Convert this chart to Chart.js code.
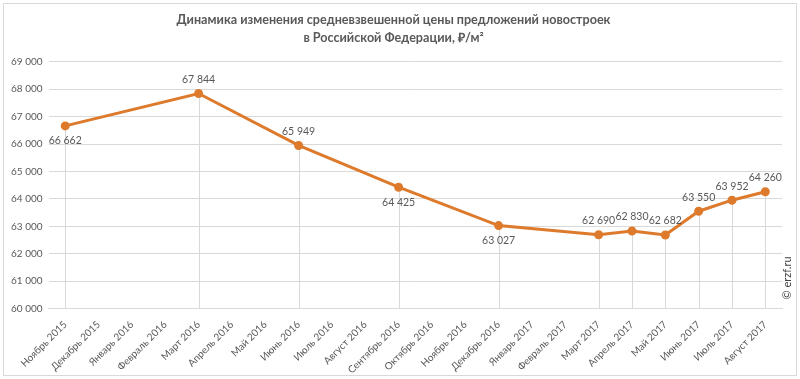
<!DOCTYPE html>
<html>
<head>
<meta charset="utf-8">
<script src="https://cdn.jsdelivr.net/npm/chart.js@4"></script>
<style>
  body { margin: 0; background: #fff; }
  #wrap { width: 800px; height: 379px; }
</style>
</head>
<body>
<div id="wrap"><canvas id="chart"></canvas></div>
<script>
// months on the x axis
const months = [
  'Ноябрь 2015', 'Декабрь 2015', 'Январь 2016', 'Февраль 2016', 'Март 2016', 'Апрель 2016',
  'Май 2016', 'Июнь 2016', 'Июль 2016', 'Август 2016', 'Сентябрь 2016', 'Октябрь 2016',
  'Ноябрь 2016', 'Декабрь 2016', 'Январь 2017', 'Февраль 2017', 'Март 2017', 'Апрель 2017',
  'Май 2017', 'Июнь 2017', 'Июль 2017', 'Август 2017'
];
// price per m2, null where there is no measurement
const prices = [
  66662, null, null, null, 67844, null,
  null, 65949, null, null, 64425, null,
  null, 63027, null, null, 62690, 62830,
  62682, 63550, 63952, 64260
];
const yTicks = [60000, 61000, 62000, 63000, 64000, 65000, 66000, 67000, 68000, 69000];

const fmt = v => String(v).replace(/\B(?=(\d{3})+(?!\d))/g, ' ');
const below = [0, 10, 13]; // points whose label sits under the marker
const orange = '#dd7a2c';
const grey = '#d9d9d9';
const textCol = '#595959';
const font = 'Lato, "Open Sans", sans-serif';

const extras = {
  id: 'extras',
  beforeDraw(chart) {
    const ctx = chart.ctx;
    ctx.save();
    ctx.fillStyle = '#fff';
    ctx.fillRect(0, 0, chart.width, chart.height);
    ctx.strokeStyle = grey;
    ctx.lineWidth = 1;
    ctx.strokeRect(3.5, 3.5, chart.width - 7, chart.height - 7);
    ctx.restore();
  },
  beforeDatasetsDraw(chart) {
    const ctx = chart.ctx, x = chart.scales.x, y = chart.scales.y;
    ctx.save();
    ctx.strokeStyle = grey;
    ctx.lineWidth = 1;
    prices.forEach((v, i) => {
      if (v == null) return;
      const px = Math.round(x.getPixelForValue(i)) + 0.5;
      ctx.beginPath();
      ctx.moveTo(px, y.getPixelForValue(v));
      ctx.lineTo(px, chart.chartArea.bottom);
      ctx.stroke();
    });
    ctx.restore();
  },
  afterDatasetsDraw(chart) {
    const ctx = chart.ctx, x = chart.scales.x, y = chart.scales.y;
    ctx.save();
    ctx.font = '10.5px ' + font;
    ctx.fillStyle = textCol;
    ctx.textAlign = 'center';
    ctx.textBaseline = 'middle';
    prices.forEach((v, i) => {
      if (v == null) return;
      const px = x.getPixelForValue(i), py = y.getPixelForValue(v);
      ctx.fillText(fmt(v), px, below.includes(i) ? py + 15 : py - 14);
    });
    // copyright
    ctx.translate(787, 278);
    ctx.rotate(-Math.PI / 2);
    ctx.font = '11px ' + font;
    ctx.fillStyle = '#404040';
    ctx.fillText('© erzf.ru', 0, 0);
    ctx.restore();
  }
};

new Chart(document.getElementById('chart'), {
  type: 'line',
  data: {
    labels: months,
    datasets: [{
      data: prices,
      spanGaps: true,
      borderColor: orange,
      backgroundColor: orange,
      borderWidth: 3,
      pointRadius: 3,
      pointBackgroundColor: orange,
      pointBorderColor: orange,
      tension: 0
    }]
  },
  options: {
    responsive: true,
    maintainAspectRatio: false,
    animation: false,
    layout: { padding: { left: 5, right: 18, top: 4, bottom: 1 } },
    plugins: {
      legend: { display: false },
      tooltip: { enabled: false },
      title: {
        display: true,
        text: ['Динамика изменения средневзвешенной цены предложений новостроек', 'в Российской Федерации, ₽/м²'],
        color: textCol,
        font: { family: font, size: 12.6, weight: 'bold', lineHeight: 1.5 },
        padding: { top: 6, bottom: 14 }
      }
    },
    scales: {
      x: {
        offset: true,
        grid: { display: false },
        border: { display: true, color: grey },
        ticks: {
          autoSkip: false,
          minRotation: 45,
          maxRotation: 45,
          color: textCol,
          font: { family: font, size: 10 },
          padding: 2
        }
      },
      y: {
        min: 60000,
        max: 69000,
        afterBuildTicks: s => { s.ticks = yTicks.map(v => ({ value: v })); },
        grid: { color: grey, drawTicks: false },
        border: { display: false },
        ticks: {
          color: textCol,
          font: { family: font, size: 10 },
          padding: 6,
          callback: v => fmt(v)
        }
      }
    }
  },
  plugins: [extras]
});
</script>
</body>
</html>
